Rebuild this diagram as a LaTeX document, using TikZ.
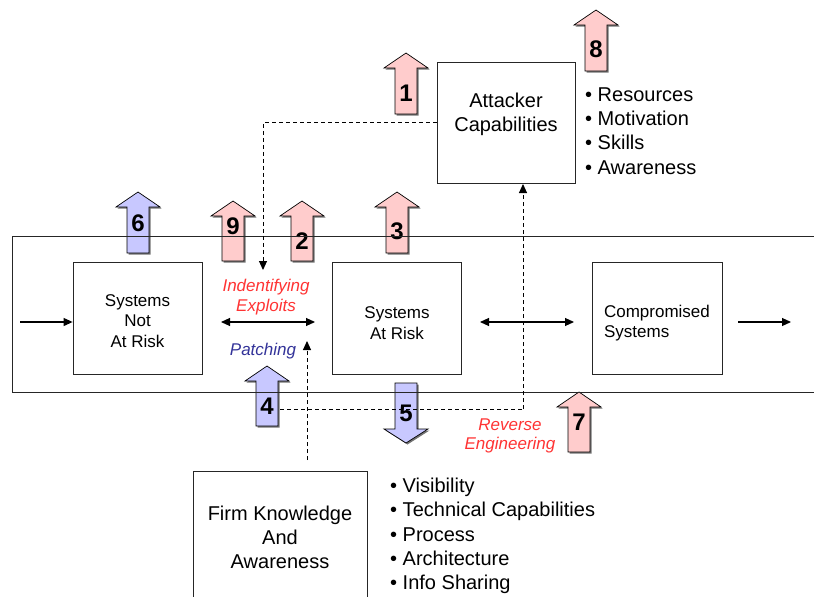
\documentclass[tikz,border=0pt]{standalone}
\usepackage{fontspec}
\setmainfont{Liberation Sans}
\usetikzlibrary{arrows.meta}
\definecolor{pinkf}{HTML}{FFCCCC}
\definecolor{bluef}{HTML}{C8C8FF}
\definecolor{redt}{HTML}{FF3333}
\definecolor{bluet}{HTML}{333399}
\tikzset{
  box/.style={draw=black!85,line width=0.8pt,inner sep=0pt},
  boxtext/.style={font=\fontsize{17}{20.5}\selectfont,align=center,inner sep=0pt},
  bigtext/.style={font=\fontsize{20}{24}\selectfont,align=center,inner sep=0pt},
  bullets/.style={font=\fontsize{20}{24.3}\selectfont,align=left,inner sep=0pt,anchor=west},
  numlbl/.style={font=\fontsize{24}{24}\selectfont\bfseries,inner sep=0pt},
  redlbl/.style={font=\fontsize{17}{19.5}\selectfont\itshape,text=redt,align=center,inner sep=0pt},
  bluelbl/.style={font=\fontsize{17}{19.5}\selectfont\itshape,text=bluet,align=center,inner sep=0pt},
  flow/.style={line width=1.1pt,{Triangle[length=9pt,width=8pt]}-{Triangle[length=9pt,width=8pt]}},
  flowone/.style={line width=1.1pt,-{Triangle[length=9pt,width=8pt]}},
  dasharr/.style={line width=1pt,dash pattern=on 4pt off 3pt,-{Triangle[length=9pt,width=8pt]}},
  dashplain/.style={line width=1pt,dash pattern=on 4pt off 3pt},
  blk/.style={draw=black,line width=0.7pt,line join=miter},
  shad/.style={fill=black!55}
}
% up block arrow: cx, tip y, bottom y, fill, label, label y, name
\newcommand\upblk[7]{%
  \fill[shad] ({#1-11+1.5},{#3+1.5}) -- ({#1-11+1.5},{#2+15+1.5}) -- ({#1-22+1.5},{#2+15+1.5}) -- ({#1+1.5},{#2+1.5}) -- ({#1+22+1.5},{#2+15+1.5}) -- ({#1+11+1.5},{#2+15+1.5}) -- ({#1+11+1.5},{#3+1.5}) -- cycle;
  \filldraw[blk,fill=#4] ({#1-11},#3) -- ({#1-11},{#2+15}) -- ({#1-22},{#2+15}) -- (#1,#2) -- ({#1+22},{#2+15}) -- ({#1+11},{#2+15}) -- ({#1+11},#3) -- cycle;
  \node[numlbl] (#7) at (#1,#6) {#5};
}
\begin{document}
\begin{tikzpicture}[x=1pt,y=-1pt]
\useasboundingbox (0,0) rectangle (814,597);

% block arrows
\upblk{406}{53}{114}{pinkf}{1}{93}{n1}
\upblk{596}{10}{71}{pinkf}{8}{49}{n8}
\upblk{138}{192}{253}{bluef}{6}{223}{n6}
\upblk{233}{201}{261}{pinkf}{9}{226}{n9}
\upblk{302}{201}{261}{pinkf}{2}{241}{n2}
\upblk{397}{192}{253}{pinkf}{3}{231}{n3}
\upblk{267}{366}{426}{bluef}{4}{406}{n4}
\upblk{579}{392}{452}{pinkf}{7}{422}{n7}
% down block arrow 5
\fill[shad] (396.5,384.5) -- (418.5,384.5) -- (418.5,430.5) -- (429.5,430.5) -- (407.5,444.5) -- (385.5,430.5) -- (396.5,430.5) -- cycle;
\filldraw[blk,fill=bluef] (395,383) -- (417,383) -- (417,429) -- (428,429) -- (406,443) -- (384,429) -- (395,429) -- cycle;
\node[numlbl] (n5) at (406,413) {5};

% outer band
\draw[line width=0.8pt,black!85] (814,236) -- (12,236) -- (12,392) -- (814,392);

% boxes
\node[box,minimum width=129pt,minimum height=112pt] (snar) at (137.5,318) {};
\node[boxtext] at (137.5,321) {Systems\\Not\\At Risk};
\node[box,minimum width=129pt,minimum height=112pt] (sar) at (397,318) {};
\node[boxtext] at (397,323) {Systems\\At Risk};
\node[box,minimum width=130pt,minimum height=112pt] (comp) at (657,318) {};
\node[boxtext,align=left] at (657,323) {Compromised\\Systems};
\node[box,minimum width=138pt,minimum height=121pt] (att) at (506,122.5) {};
\node[bigtext] at (506,114) {Attacker\\Capabilities};
\draw[box] (193,600) -- (193,471) -- (367,471) -- (367,600);
\node[bigtext] (firm) at (280,537) {Firm Knowledge\\And\\Awareness};

% bullet lists
\node[bullets] (attlist) at (585,131) {• Resources\\• Motivation\\• Skills\\• Awareness};
\node[bullets] (firmlist) at (390,536) {• Visibility\\• Technical Capabilities\\• Process\\• Architecture\\• Info Sharing};

% flow arrows
\coordinate (in0) at (20,322);
\coordinate (out0) at (738,322);
\coordinate (out1) at (791,322);
\draw[flowone] (in0) -- (snar.west |- in0);
\draw[flowone] (out0) -- (out1);
\coordinate (a1) at (221,322); \coordinate (a2) at (315,322);
\draw[flow] (a1) -- (a2);
\coordinate (b1) at (480,322); \coordinate (b2) at (574,322);
\draw[flow] (b1) -- (b2);

% labels
\node[redlbl] (idex) at (266,297) {Indentifying\\Exploits};
\node[bluelbl] (patch) at (263,351) {Patching};
\node[redlbl] (reveng) at (510,436) {Reverse\\Engineering};

% dashed connectors
\coordinate (e1) at (263,270);
\draw[dasharr] (att.west) -| (e1);
\coordinate (f0) at (307,460);
\coordinate (f1) at (307,341);
\draw[dasharr] (f0) -- (f1);
\coordinate (r0) at (280,409);
\coordinate (r1) at (523,409);
\coordinate (r2) at (523,184);
\draw[dashplain] (r0) -- (r1);
\draw[dasharr] (r1) -- (r2);
\end{tikzpicture}
\end{document}
